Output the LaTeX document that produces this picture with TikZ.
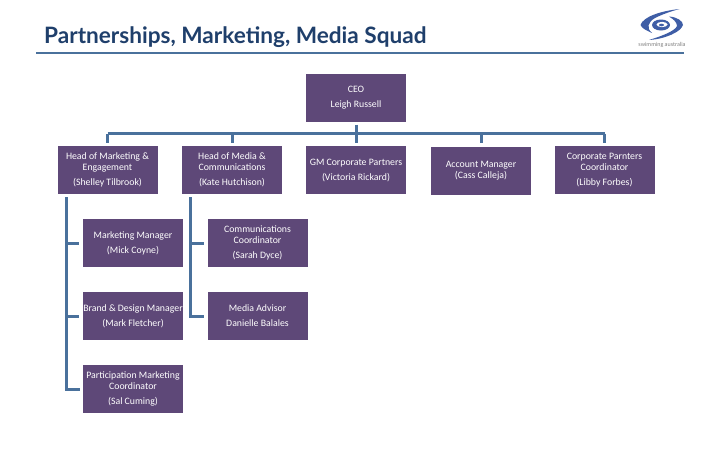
\documentclass[tikz,border=0pt]{standalone}
\usepackage{fontspec}
\setmainfont{Carlito}
\newfontfamily\titlefont{Lato}
\usetikzlibrary{positioning, calc}

\definecolor{boxpurple}{HTML}{5E4878}
\definecolor{linkblue}{HTML}{4A719C}
\definecolor{titleblue}{HTML}{1F3F6B}
\definecolor{logoblue}{HTML}{3F5EA6}

\begin{document}
\begin{tikzpicture}[x=1pt, y=-1pt, every node/.style={font=\fontsize{9.8}{11}\selectfont}]
    \tikzset{
      staffbox/.style={rectangle, fill=boxpurple, text=white, minimum width=100pt,
                       minimum height=48pt, inner sep=0pt, align=center},
      link/.style={draw=linkblue, line width=3pt},
      stublink/.style={link, shorten >=3.5pt},
      stemlink/.style={link, shorten <=3pt}}
    \useasboundingbox (0,0) rectangle (720,450);
    % heading
    \node[anchor=base west, inner sep=0pt, text=titleblue, font=\titlefont\bfseries\fontsize{22.6}{26}\selectfont] (title) at (44,43)
        {Partnerships, Marketing, Media Squad};
    \coordinate (ruleL) at (36,53);
    \coordinate (ruleR) at (684,53);
    \draw[draw=linkblue, line width=2.6pt] (ruleL) -- (ruleR);
    % logo
    \fill[logoblue] (679.5,9) .. controls (660,11) and (643,17) .. (640.5,25) .. controls (642,29) and (648,31) .. (652,33)
        .. controls (646,28) and (648,22) .. (655,18) .. controls (663,14) and (672,11) .. (679.5,9);
    \fill[logoblue] (669,16.5) .. controls (677,17) and (683,21) .. (683,25) .. controls (681,32) and (665,39) .. (649,40)
        .. controls (662,36) and (675,31) .. (677,26) .. controls (677,22) and (673,19) .. (669,16.5);
    \fill[logoblue] (661,25) ellipse [x radius=9pt, y radius=5.5pt];
    \fill[white] (662,24.5) ellipse [x radius=5.5pt, y radius=2.6pt];
    \fill[logoblue] (661.5,25) ellipse [x radius=2.6pt, y radius=1.3pt];
    \node[text=gray, inner sep=0pt, font=\fontsize{6}{7}\selectfont] (logotext) at (662,45) {swimming australia};
    % top row
    \node[staffbox] (ceo) at (356,97.5) {CEO\\[4pt]Leigh Russell};
    \node[staffbox] (mkt) at (107.5,170) {Head of Marketing \&\\Engagement\\[4pt](Shelley Tilbrook)};
    \node[staffbox] (media) at (232,170) {Head of Media \&\\Communications\\[4pt](Kate Hutchison)};
    \node[staffbox] (gm) at (356,170) {GM Corporate Partners\\[4pt](Victoria Rickard)};
    \node[staffbox] (acct) at (481,171) {Account Manager\\(Cass Calleja)};
    \node[staffbox] (corp) at (604.5,170) {Corporate Parnters\\Coordinator\\[4pt](Libby Forbes)};
    % under marketing
    \node[staffbox] (mgr) at (133,243) {Marketing Manager\\[4pt](Mick Coyne)};
    \node[staffbox] (brand) at (133,316) {Brand \& Design Manager\\[4pt](Mark Fletcher)};
    \node[staffbox] (part) at (133,389) {Participation Marketing\\Coordinator\\[4pt](Sal Cuming)};
    % under media
    \node[staffbox] (comms) at (257.5,243) {Communications\\Coordinator\\[4pt](Sarah Dyce)};
    \node[staffbox] (advisor) at (257.5,316) {Media Advisor\\[4pt]Danielle Balales};
    % connectors
    \coordinate (bus) at (356,133.5);
    \coordinate (mktspine) at (66.5,197);
    \coordinate (mediaspine) at (190.5,197);
    \draw[stemlink] (ceo.south) -- (ceo.south |- {(0,143)});
    \draw[link] (bus -| mkt.north) -- (bus -| corp.north);
    \foreach \n in {mkt, media, gm, acct, corp}
      \draw[link] (bus -| \n.north) -- ($(bus -| \n.north)+(0,9.5)$);
    \draw[link] (mktspine) |- ($(part.west)+(-3,0)$);
    \draw[stublink] (mktspine |- mgr.west) -- (mgr.west);
    \draw[stublink] (mktspine |- brand.west) -- (brand.west);
    \draw[link] (mediaspine) |- ($(advisor.west)+(-3,0)$);
    \draw[stublink] (mediaspine |- comms.west) -- (comms.west);
\end{tikzpicture}
\end{document}
